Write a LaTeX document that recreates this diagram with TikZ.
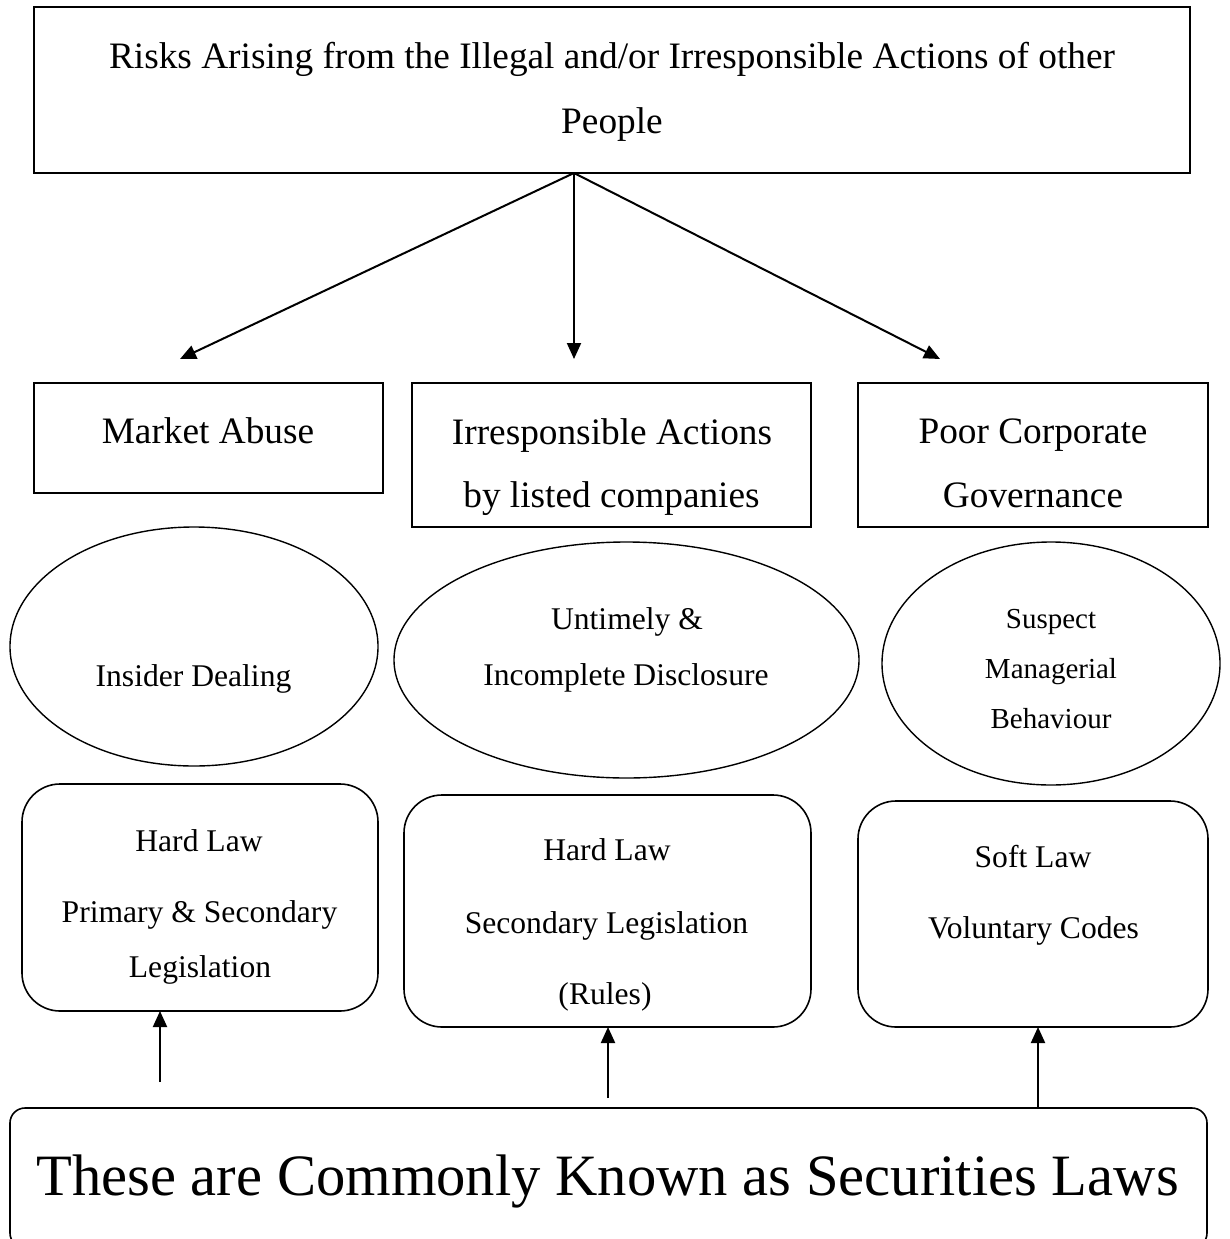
\documentclass[tikz,border=0pt]{standalone}
\usepackage{fontspec}
\setmainfont{Liberation Serif}
\usetikzlibrary{arrows.meta,shapes.geometric}
\tikzset{
  boxnode/.style={draw, line width=1.6pt, rectangle, inner sep=0pt, outer sep=0pt},
  rbox/.style={draw, line width=1.6pt, rectangle, rounded corners=38pt, inner sep=0pt, outer sep=0pt},
  ellnode/.style={draw, line width=1.4pt, ellipse, inner sep=0pt, outer sep=0pt},
  arr/.style={line width=2pt, -{Triangle[length=16pt,width=14pt]}},
  tbig/.style={anchor=base, inner sep=0pt, font=\fontsize{37.3}{44}\selectfont},
  tmid/.style={anchor=base, inner sep=0pt, font=\fontsize{31.6}{38}\selectfont},
  tsm/.style={anchor=base, inner sep=0pt, font=\fontsize{29}{35}\selectfont},
  thuge/.style={anchor=base, inner sep=0pt, font=\fontsize{58.6}{70}\selectfont}
}
\begin{document}
\begin{tikzpicture}[x=1pt,y=-1pt]
\useasboundingbox (0,0) rectangle (1230,1239);
\clip (0,0) rectangle (1230,1239);

% top box
\node[boxnode, minimum width=1156pt, minimum height=166pt] (top) at (612,90) {};
\node[tbig] (t1) at (612,68) {Risks Arising from the Illegal and/or Irresponsible Actions of other};
\node[tbig] (t2) at (612,133) {People};

% second row boxes
\node[boxnode, minimum width=349pt, minimum height=110pt] (ma) at (208.5,438) {};
\node[tbig] (maT) at (208,443) {Market Abuse};
\node[boxnode, minimum width=399pt, minimum height=144pt] (ia) at (611.5,455) {};
\node[tbig] (iaT1) at (612,444) {Irresponsible Actions};
\node[tbig] (iaT2) at (611.5,507) {by listed companies};
\node[boxnode, minimum width=350pt, minimum height=144pt] (pc) at (1033,455) {};
\node[tbig] (pcT1) at (1033,443) {Poor Corporate};
\node[tbig] (pcT2) at (1033,507) {Governance};

% arrows from top box
\coordinate (o) at (574,173);
\coordinate (h1) at (180,359);
\coordinate (h2) at (574,359);
\coordinate (h3) at (940,359);
\draw[arr] (o) -- (h1);
\draw[arr] (o) -- (h2);
\draw[arr] (o) -- (h3);

% ellipses
\node[ellnode, minimum width=368pt, minimum height=239pt] (e1) at (194,646.5) {};
\node[tmid] (e1T) at (193.5,686) {Insider Dealing};
\node[ellnode, minimum width=465pt, minimum height=236pt] (e2) at (626.5,660) {};
\node[tmid] (e2T1) at (627,629) {Untimely \&};
\node[tmid] (e2T2) at (626,685) {Incomplete Disclosure};
\node[ellnode, minimum width=338pt, minimum height=243pt] (e3) at (1051,663.5) {};
\node[tsm] (e3T1) at (1051,628) {Suspect};
\node[tsm] (e3T2) at (1051,678) {Managerial};
\node[tsm] (e3T3) at (1051,728) {Behaviour};

% rounded boxes
\node[rbox, minimum width=356pt, minimum height=227pt] (rb1) at (200,897.5) {};
\node[tmid] (rb1T1) at (199,851) {Hard Law};
\node[tmid] (rb1T2) at (199.5,922) {Primary \& Secondary};
\node[tmid] (rb1T3) at (200,977) {Legislation};
\node[rbox, minimum width=407pt, minimum height=232pt] (rb2) at (607.5,911) {};
\node[tmid] (rb2T1) at (607,860) {Hard Law};
\node[tmid] (rb2T2) at (606.5,933) {Secondary Legislation};
\node[tmid] (rb2T3) at (605,1004) {(Rules)};
\node[rbox, minimum width=350pt, minimum height=226pt] (rb3) at (1033,914) {};
\node[tmid] (rb3T1) at (1033,867) {Soft Law};
\node[tmid] (rb3T2) at (1033.5,938) {Voluntary Codes};

% bottom box
\node[draw, line width=1.6pt, rectangle, rounded corners=15pt, inner sep=0pt, outer sep=0pt,
      minimum width=1197pt, minimum height=140pt] (bb) at (608.5,1178) {};
\node[thuge] (bbT) at (607.5,1195) {These are Commonly Known as Securities Laws};

% up arrows
\coordinate (u1) at (160,1082);
\coordinate (u2) at (608,1098);
\coordinate (u3) at (1038,1108);
\draw[arr] (u1) -- (u1 |- rb1.south);
\draw[arr] (u2) -- (u2 |- rb2.south);
\draw[arr] (u3) -- (u3 |- rb3.south);
\end{tikzpicture}
\end{document}
